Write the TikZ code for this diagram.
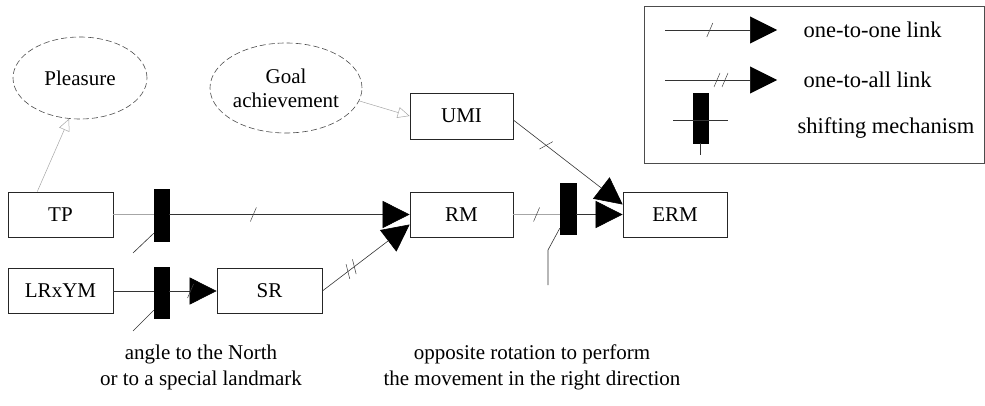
\documentclass[tikz,border=0pt]{standalone}
\usepackage{fontspec}
\setmainfont{Liberation Serif}
\usetikzlibrary{arrows.meta,decorations.markings,shapes.geometric,calc}
\begin{document}
\begin{tikzpicture}[x=1pt,y=-1pt,
  font=\fontsize{21}{26}\selectfont,
  box/.style={draw=black!85, line width=0.7pt, minimum width=105pt, minimum height=45pt, inner sep=0pt},
  bar/.style={fill=black, draw=black, minimum width=15pt, minimum height=51pt, inner sep=0pt},
  oval/.style={ellipse, draw=black!70, dash pattern=on 6pt off 3pt, line width=0.6pt, inner sep=0pt},
  link/.style={draw=black!80, line width=0.6pt},
  faint/.style={draw=black!35, line width=0.5pt},
  big/.style={-{Triangle[length=27pt,width=27pt,black]}},
  hollow/.style={-{Triangle[open,length=12pt,width=11pt]}},
  tickA/.style={postaction={-,decorate,decoration={markings,mark=at position #1 with {\draw[-,black!75,line width=0.5pt] (-3pt,-7pt)--(3pt,7pt);}}}},
  tickB/.style={postaction={-,decorate,decoration={markings,mark=at position #1 with {\draw[-,black!75,line width=0.5pt] (-7pt,-7pt)--(-1pt,7pt) (1pt,-7pt)--(7pt,7pt);}}}}
]
\useasboundingbox (0,0) rectangle (985,406);

% legend
\draw[black!70, line width=0.6pt] (644,6) rectangle (984,163);
\coordinate (l1a) at (665,30);
\coordinate (l1b) at (777,30);
\coordinate (l2a) at (665,80);
\coordinate (l2b) at (777,80);
\draw[link, big, tickA=0.4] (l1a) -- (l1b);
\draw[link, big, tickB=0.5] (l2a) -- (l2b);
\node[bar, minimum height=50pt] (lb) at (700.5,118) {};
\coordinate (lh1) at (673,120);
\coordinate (lh2) at (728,120);
\coordinate (lv) at (700.5,155);
\draw[link] (lh1) -- (lh2);
\draw[link] (lb.south) -- (lv);
\begin{scope}[font=\fontsize{22.5}{26}\selectfont]
\node[anchor=west] (t1) at (800,30) {one-to-one link};
\node[anchor=west] (t2) at (800,80) {one-to-all link};
\node[anchor=west] (t3) at (794,128) {shifting mechanism};
\end{scope}

% ellipses
\node[oval, minimum width=134pt, minimum height=82pt] (pl) at (80,78) {Pleasure};
\node[oval, minimum width=152pt, minimum height=90pt, align=center, font=\fontsize{21}{24}\selectfont] (goal) at (286,88) {Goal\\achievement};

% boxes
\node[box] (TP) at (60.5,214.5) {TP};
\node[box] (LR) at (60.5,291) {LRxYM};
\node[box] (SR) at (269.5,291) {SR};
\node[box, minimum width=103pt, minimum height=46pt] (UMI) at (461.5,116) {UMI};
\node[box, minimum width=103pt] (RM) at (461.5,214.5) {RM};
\node[box, minimum width=104pt] (ERM) at (675,214.5) {ERM};

% shifting bars
\node[bar, minimum height=52pt] (b1) at (161.5,215) {};
\node[bar] (b2) at (161.5,292.5) {};
\node[bar, minimum width=16pt] (b3) at (568,208.5) {};

% connectors
\coordinate (tpup) at ($(TP.north west)!0.28!(TP.north east)$);
\draw[faint, hollow] (tpup) -- (pl.255);
\draw[faint, hollow] (goal.350) -- (UMI.west);

\draw[faint] (TP.east) -- (b1.west |- TP.east);
\draw[link, big, tickA=0.35] (b1.east |- RM.west) -- (RM.west);
\coordinate (d1) at (133,253);
\draw[link] (d1) -- ($(b1.south west)+(0,-8)$);

\draw[link] (LR.east) -- (b2.west |- LR.east);
\draw[link, big, tickA=0.45] (b2.east |- SR.west) -- (SR.west);
\coordinate (d2) at (133,331);
\draw[link] (d2) -- ($(b2.south west)+(0,-8)$);

\draw[link, big, tickB=0.33] (SR.east) -- ($(RM.west)+(0,10)$);

\draw[faint, tickA=0.5] (RM.east) -- (b3.west |- RM.east);
\draw[link, big] (b3.east |- RM.east) -- (ERM.west);
\draw[link, big, tickA=0.3] ($(UMI.east)+(0,4)$) -- ($(ERM.west)+(0,-10)$);
\coordinate (d3a) at (548,250);
\coordinate (d3b) at (548,285);
\draw[link] ($(b3.south west)+(0,-6)$) -- (d3a) -- (d3b);

% captions
\node[align=center] (capL) at (201,367) {angle to the North\\or to a special landmark};
\node[align=center] (capR) at (532,367) {opposite rotation to perform\\the movement in the right direction};
\end{tikzpicture}
\end{document}
